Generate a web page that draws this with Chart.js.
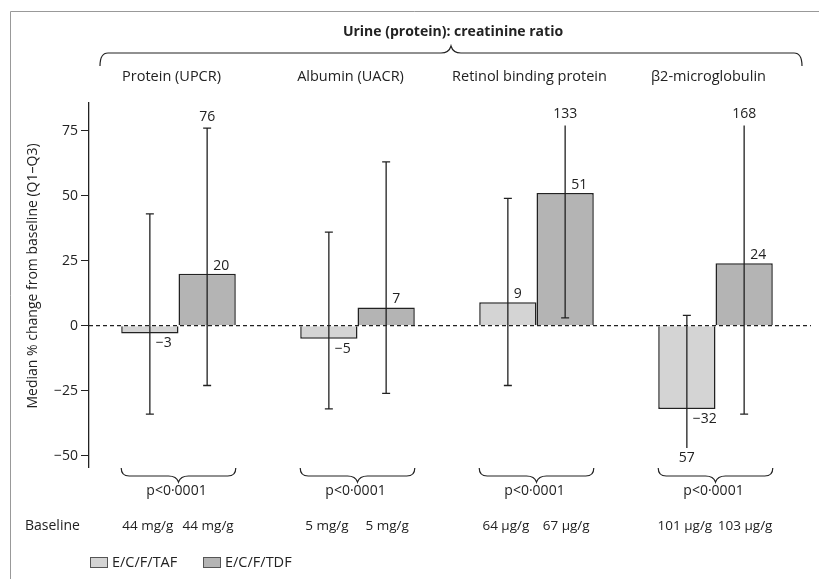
<!DOCTYPE html>
<html>
<head>
<meta charset="utf-8">
<script src="https://cdn.jsdelivr.net/npm/chart.js@4.4.1/dist/chart.umd.min.js"></script>
<style>
  html, body { margin: 0; padding: 0; background: #fff; }
  #wrap { width: 819px; height: 579px; position: relative; }
</style>
</head>
<body>
<div id="wrap"><canvas id="chart"></canvas></div>
<script>
// data
var categories = ['Protein (UPCR)', 'Albumin (UACR)', 'Retinol binding protein', 'β2-microglobulin'];
var seriesNames = ['E/C/F/TAF', 'E/C/F/TDF'];
var tafMedian = [-3, -5, 9, -32];
var tdfMedian = [20, 7, 51, 24];
var tafQ1 = [-34, -32, -23, -57];
var tafQ3 = [43, 36, 49, 4];
var tdfQ1 = [-23, -26, 3, -34];
var tdfQ3 = [76, 63, 133, 168];
var pValues = ['p<0·0001', 'p<0·0001', 'p<0·0001', 'p<0·0001'];
var tafBaseline = ['44 mg/g', '5 mg/g', '64 µg/g', '101 µg/g'];
var tdfBaseline = ['44 mg/g', '5 mg/g', '67 µg/g', '103 µg/g'];
var yTicks = [-50, -25, 0, 25, 50, 75];

var FONT = '"Open Sans", sans-serif';
var INK = '#222';
var TAF_FILL = '#d4d4d4';
var TDF_FILL = '#b4b4b4';
// whiskers running past these are cut short and labelled
var clipTop = 77, clipBottom = -47;

function fmt(v) { return v < 0 ? '\u2212' + Math.abs(v) : String(v); }

// curly brace: tips at yLine+tip, middle point at yLine+mid
function brace(ctx, x1, x2, yLine, tip, mid) {
  var xm = (x1 + x2) / 2, r = 8;
  ctx.beginPath();
  ctx.moveTo(x1, yLine + tip);
  ctx.quadraticCurveTo(x1, yLine, x1 + r, yLine);
  ctx.lineTo(xm - 10, yLine);
  ctx.bezierCurveTo(xm - 4, yLine, xm - 1, yLine + mid * 0.5, xm, yLine + mid);
  ctx.bezierCurveTo(xm + 1, yLine + mid * 0.5, xm + 4, yLine, xm + 10, yLine);
  ctx.lineTo(x2 - r, yLine);
  ctx.quadraticCurveTo(x2, yLine, x2, yLine + tip);
  ctx.stroke();
}

var extras = {
  id: 'extras',
  afterDatasetsDraw: function(chart) {
    var ctx = chart.ctx, area = chart.chartArea, y = chart.scales.y;
    ctx.save();
    // dashed zero line
    var y0 = y.getPixelForValue(0);
    ctx.strokeStyle = INK;
    ctx.lineWidth = 1.2;
    ctx.setLineDash([4, 3]);
    ctx.beginPath();
    ctx.moveTo(area.left, y0);
    ctx.lineTo(area.right + 6, y0);
    ctx.stroke();
    ctx.setLineDash([]);

    // error bars + labels
    var sets = [[tafMedian, tafQ1, tafQ3], [tdfMedian, tdfQ1, tdfQ3]];
    ctx.font = '14px ' + FONT;
    ctx.fillStyle = INK;
    sets.forEach(function(s, di) {
      var meta = chart.getDatasetMeta(di);
      meta.data.forEach(function(bar, i) {
        var x = bar.x;
        var lo = s[1][i], hi = s[2][i];
        var yHi = y.getPixelForValue(Math.min(hi, clipTop));
        var yLo = y.getPixelForValue(Math.max(lo, clipBottom));
        ctx.lineWidth = 1.3;
        ctx.beginPath();
        ctx.moveTo(x, yHi); ctx.lineTo(x, yLo);
        if (hi <= clipTop) { ctx.moveTo(x - 4, yHi); ctx.lineTo(x + 4, yHi); }
        if (lo >= clipBottom) { ctx.moveTo(x - 4, yLo); ctx.lineTo(x + 4, yLo); }
        ctx.stroke();
        ctx.textAlign = 'center';
        if (hi > 75) {
          ctx.textBaseline = 'bottom';
          ctx.fillText(String(hi), x, yHi - 4);
        }
        if (lo < -50) {
          // printed without sign in the source figure
          ctx.textBaseline = 'top';
          ctx.fillText(String(Math.abs(lo)), x, yLo + 3);
        }
        // median label
        var v = s[0][i];
        var yb = y.getPixelForValue(v);
        ctx.textAlign = 'left';
        if (v >= 0) {
          ctx.textBaseline = 'bottom';
          ctx.fillText(fmt(v), x + 6, yb - 1);
        } else {
          ctx.textBaseline = 'top';
          ctx.fillText(fmt(v), x + 6, yb + 3);
        }
      });
    });
    ctx.restore();
  },
  afterDraw: function(chart) {
    var ctx = chart.ctx, area = chart.chartArea;
    var m0 = chart.getDatasetMeta(0), m1 = chart.getDatasetMeta(1);
    ctx.save();
    // frame
    ctx.strokeStyle = '#999';
    ctx.lineWidth = 1;
    ctx.beginPath();
    ctx.moveTo(10.5, 579); ctx.lineTo(10.5, 11.5); ctx.lineTo(819, 11.5);
    ctx.stroke();

    ctx.fillStyle = INK;
    ctx.strokeStyle = INK;
    ctx.lineWidth = 1.2;
    // header
    ctx.font = 'bold 14px ' + FONT;
    ctx.textAlign = 'center';
    ctx.textBaseline = 'middle';
    ctx.fillText('Urine (protein): creatinine ratio', 453, 32);
    brace(ctx, area.left + 11, area.right - 3, 53, 13, -7);

    categories.forEach(function(c, i) {
      var a = m0.data[i], b = m1.data[i];
      var cx = (a.x + b.x) / 2;
      ctx.textAlign = 'center';
      ctx.font = '14.5px ' + FONT;
      ctx.fillText(c, cx - 7, 77);
      var x1 = a.x - a.width / 2, x2 = b.x + b.width / 2;
      brace(ctx, x1, x2, 476, -8, 6);
      ctx.font = '14px ' + FONT;
      ctx.fillText(pValues[i], cx - 2, 491);
      ctx.font = '13.5px ' + FONT;
      ctx.fillText(tafBaseline[i], a.x - 2, 526);
      ctx.fillText(tdfBaseline[i], b.x + 1, 526);
    });
    ctx.textAlign = 'left';
    ctx.font = '14px ' + FONT;
    ctx.fillText('Baseline', 25, 526);

    // y title
    ctx.save();
    ctx.translate(33, 276);
    ctx.rotate(-Math.PI / 2);
    ctx.textAlign = 'center';
    ctx.fillText('Median % change from baseline (Q1\u2013Q3)', 0, 0);
    ctx.restore();

    // legend
    var lx = [90, 203], fills = [TAF_FILL, TDF_FILL];
    ctx.font = '14.5px ' + FONT;
    ctx.lineWidth = 1;
    seriesNames.forEach(function(n, i) {
      ctx.fillStyle = fills[i];
      ctx.fillRect(lx[i] + 0.5, 557.5, 17, 10);
      ctx.strokeStyle = '#555';
      ctx.strokeRect(lx[i] + 0.5, 557.5, 17, 10);
      ctx.fillStyle = INK;
      ctx.textAlign = 'left';
      ctx.fillText(n, lx[i] + 22, 563);
    });
    ctx.restore();
  }
};

new Chart(document.getElementById('chart'), {
  type: 'bar',
  data: {
    labels: categories,
    datasets: [
      { label: seriesNames[0], data: tafMedian, backgroundColor: TAF_FILL, borderColor: INK, borderWidth: 1.5 },
      { label: seriesNames[1], data: tdfMedian, backgroundColor: TDF_FILL, borderColor: INK, borderWidth: 1.5 }
    ]
  },
  options: {
    responsive: true,
    maintainAspectRatio: false,
    animation: false,
    layout: { padding: { left: 0, right: 14, top: 103, bottom: 112 } },
    datasets: { bar: { categoryPercentage: 0.64, barPercentage: 1 } },
    plugins: { legend: { display: false }, tooltip: { enabled: false } },
    scales: {
      x: { display: false },
      y: {
        min: -54.35,
        max: 85.65,
        afterBuildTicks: function(s) { s.ticks = yTicks.map(function(v) { return { value: v }; }); },
        afterFit: function(s) { s.width = 89; },
        grid: { drawOnChartArea: false, drawTicks: true, tickLength: 8, color: INK, tickColor: INK },
        border: { display: true, color: INK, width: 1.3 },
        ticks: {
          padding: 3,
          color: INK,
          font: { family: '"Open Sans", sans-serif', size: 14 },
          callback: function(v) { return fmt(v); }
        }
      }
    }
  },
  plugins: [extras]
});
</script>
</body>
</html>
